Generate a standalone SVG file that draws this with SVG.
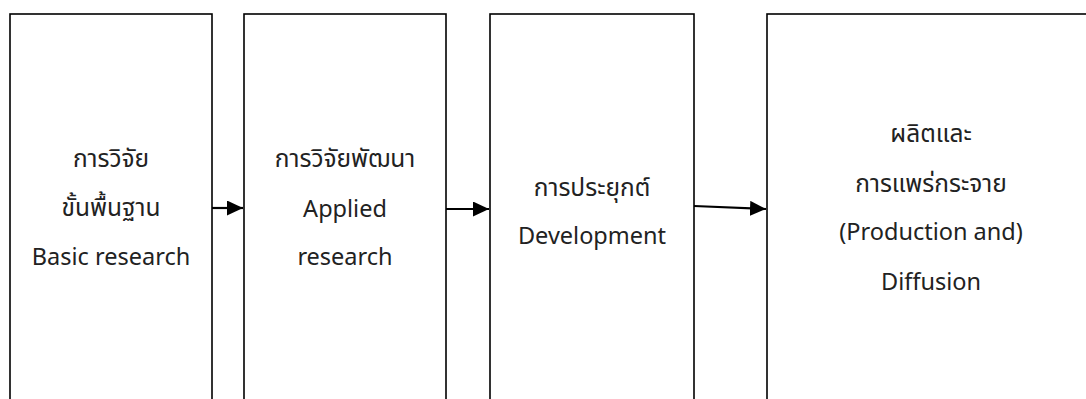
<svg xmlns="http://www.w3.org/2000/svg" width="1086" height="399" viewBox="0 0 1086 399">
  <style>
    .box { fill: #ffffff; stroke: #000000; stroke-width: 1.6; }
    .label { font-family: "Noto Sans", "Noto Sans Thai", "DejaVu Sans", sans-serif; font-size: 23.5px; fill: #222222; text-anchor: middle; }
    .th { font-size: 24.5px; }
    .link { stroke: #000000; stroke-width: 2.2; fill: none; marker-end: url(#head); }
  </style>
  <defs>
    <marker id="head" viewBox="0 0 16 15" refX="16" refY="7.5" markerWidth="16" markerHeight="15" markerUnits="userSpaceOnUse" orient="auto">
      <path d="M0,0 L16,7.5 L0,15 Z" fill="#000000"/>
    </marker>
  </defs>
  <rect width="1086" height="399" fill="#ffffff"/>

  <g id="basic-research">
    <rect class="box" x="10" y="14" width="202" height="400"/>
    <text class="label th" x="111" y="167">การวิจัย</text>
    <text class="label th" x="111" y="216">ขั้นพื้นฐาน</text>
    <text class="label" x="111" y="265">Basic research</text>
  </g>

  <g id="applied-research">
    <rect class="box" x="244" y="14" width="202" height="400"/>
    <text class="label th" x="345" y="167">การวิจัยพัฒนา</text>
    <text class="label" x="345" y="217">Applied</text>
    <text class="label" x="345" y="265">research</text>
  </g>

  <g id="development">
    <rect class="box" x="490" y="14" width="204" height="400"/>
    <text class="label th" x="592" y="196">การประยุกต์</text>
    <text class="label" x="592" y="244">Development</text>
  </g>

  <g id="production-diffusion">
    <rect class="box" x="767" y="14" width="330" height="400"/>
    <text class="label th" x="931" y="142">ผลิตและ</text>
    <text class="label th" x="931" y="192">การแพร่กระจาย</text>
    <text class="label" x="931" y="240">(Production and)</text>
    <text class="label" x="931" y="290">Diffusion</text>
  </g>

  <g id="connectors">
    <line class="link" x1="212" y1="208" x2="243" y2="208"/>
    <line class="link" x1="446" y1="209" x2="489" y2="209"/>
    <line class="link" x1="694" y1="206" x2="766" y2="209"/>
  </g>
</svg>
